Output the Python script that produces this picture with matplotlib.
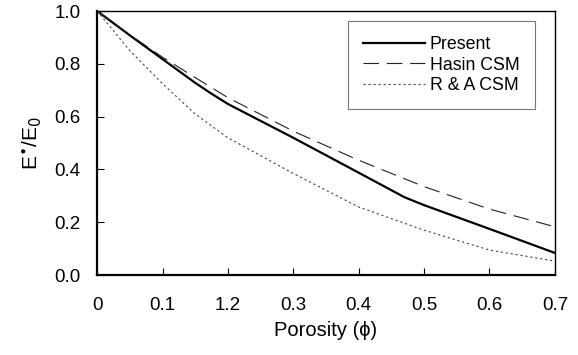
import matplotlib
matplotlib.use("Agg")
import matplotlib.pyplot as plt

plt.rcParams['font.family'] = ['Liberation Sans', 'DejaVu Sans']

# porosity values and normalised modulus
phi_present = [0.0, 0.05, 0.1, 0.15, 0.173, 0.2, 0.3, 0.387, 0.47, 0.5, 0.6, 0.7]
e_present = [1.0, 0.908, 0.818, 0.728, 0.69, 0.648, 0.52, 0.405, 0.295, 0.265, 0.175, 0.084]

phi_hasin = [0.0, 0.05, 0.1, 0.15, 0.2, 0.3, 0.4, 0.5, 0.6, 0.7]
e_hasin = [1.0, 0.91, 0.825, 0.748, 0.672, 0.545, 0.435, 0.335, 0.25, 0.183]

phi_ra = [0.0, 0.05, 0.1, 0.15, 0.2, 0.3, 0.4, 0.5, 0.6, 0.7]
e_ra = [1.0, 0.85, 0.725, 0.61, 0.52, 0.385, 0.258, 0.17, 0.095, 0.053]

xticks = [0, 0.1, 0.2, 0.3, 0.4, 0.5, 0.6, 0.7]
xlabels = ["0", "0.1", "1.2", "0.3", "0.4", "0.5", "0.6", "0.7"]
yticks = [0.0, 0.2, 0.4, 0.6, 0.8, 1.0]

fig = plt.figure(figsize=(5.78, 3.55), dpi=100)
ax = fig.add_axes([0.168, 0.225, 0.792, 0.744])

ax.plot(phi_present, e_present, color="black", lw=1.6, label="Present")
ax.plot(phi_hasin, e_hasin, color="#222222", lw=0.8, dashes=(14, 7), label="Hasin CSM")
ax.plot(phi_ra, e_ra, color="#444444", lw=0.8, dashes=(2, 2.5), label="R & A CSM")

ax.set_xlim(0, 0.7)
ax.set_ylim(0, 1.0)
ax.set_xticks(xticks)
ax.set_xticklabels(xlabels)
ax.set_yticks(yticks)
ax.set_yticklabels(["%.1f" % v for v in yticks])
ax.tick_params(axis="x", direction="in", length=5, pad=16, labelsize=13.5)
ax.tick_params(axis="y", direction="in", length=5, pad=12, labelsize=13.5)

for side in ["left", "bottom"]:
    ax.spines[side].set_linewidth(1.6)
for side in ["top", "right"]:
    ax.spines[side].set_linewidth(1.0)

ax.set_xlabel("Porosity (\u03d5)", fontsize=14.5, labelpad=5)
ax.set_ylabel(r"E$^{\bullet}$/E$_0$", fontsize=15, labelpad=8)

leg = ax.legend(loc="upper right", bbox_to_anchor=(0.956, 0.962), borderaxespad=0,
                fontsize=12.8, frameon=True, fancybox=False, edgecolor="#555555",
                handlelength=3.5, handletextpad=0.25, borderpad=0.85,
                labelspacing=0.2)
leg.get_frame().set_linewidth(0.8)

fig.savefig("out.png", dpi=100)
